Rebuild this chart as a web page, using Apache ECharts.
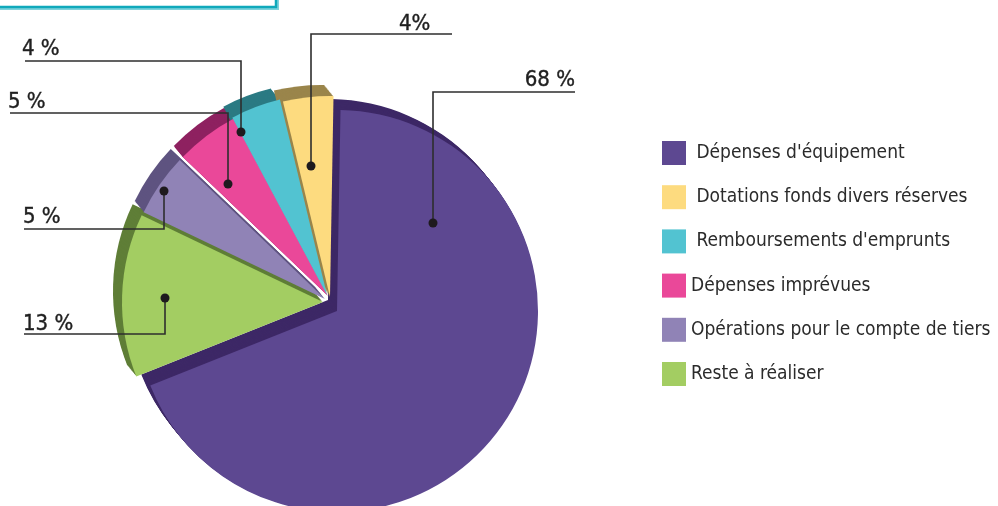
<!DOCTYPE html>
<html><head><meta charset="utf-8">
<script src="https://cdn.jsdelivr.net/npm/echarts@6/dist/echarts.min.js"></script>
<style>html,body{margin:0;padding:0;background:#fff}#c{width:998px;height:506px}</style>
</head><body><div id="c"></div>
<script>
// ---- data ----
const categories = ["Dépenses d'équipement", "Reste à réaliser", "Opérations pour le compte de tiers", "Dépenses imprévues", "Remboursements d'emprunts", "Dotations fonds divers réserves"];
const values = [68, 13, 5, 5, 4, 4];
const valueLabels = ["68 %", "13 %", "5 %", "5 %", "4 %", "4%"];
const legendOrder = ["Dépenses d'équipement", "Dotations fonds divers réserves", "Remboursements d'emprunts", "Dépenses imprévues", "Opérations pour le compte de tiers", "Reste à réaliser"];

// ---- styles / layout ----
const faceColors = ['#5d4891', '#a3cd62', '#9083b6', '#ea4899', '#52c3d1', '#fddb7f'];
const sideColors = ['#3d2866', '#5f7e37', '#5e5380', '#8e2160', '#2b7a83', '#9a854b'];
const faceCenters = [[337, 311], [323, 302], [325, 299], [328, 296], [327, 295], [330, 297]];
const RADIUS = 201;
const EXTRUDE = [-9, -11];
const STEPS = 10;
const FONT = '"DejaVu Sans Condensed", "Liberation Sans Narrow", "Liberation Sans", sans-serif';
// annotation layout per slice: dot, elbow line y, line end x, text anchor x/y, align
const annotLayout = [
  {dot: [433, 223], ly: 92, lx: 575, tx: 575, ty: 80, align: 'right'},
  {dot: [165, 298], ly: 334, lx: 24, tx: 23, ty: 324, align: 'left'},
  {dot: [164, 191], ly: 229, lx: 24, tx: 23, ty: 217, align: 'left'},
  {dot: [228, 184], ly: 113, lx: 10, tx: 8, ty: 102, align: 'left'},
  {dot: [241, 132], ly: 61, lx: 25, tx: 22, ty: 49, align: 'left'},
  {dot: [311, 166], ly: 34, lx: 452, tx: 399, ty: 24, align: 'left'}
];

function sliceSeries(i, cx, cy, color) {
  return {
    type: 'pie', center: [cx, cy], radius: [0, RADIUS], startAngle: 89, clockwise: true,
    silent: true, animation: false, legendHoverLink: false, avoidLabelOverlap: false,
    label: {show: false}, labelLine: {show: false}, emphasis: {disabled: true},
    itemStyle: {borderWidth: 0},
    data: categories.map((n, k) => ({
      name: n, value: values[k],
      itemStyle: {color: k === i ? color : 'rgba(0,0,0,0)', borderWidth: 0}
    }))
  };
}

const series = [];
categories.forEach((n, i) => {
  for (let s = STEPS; s >= 1; s--) {
    const t = s / STEPS;
    series.push(sliceSeries(i, faceCenters[i][0] + EXTRUDE[0] * t, faceCenters[i][1] + EXTRUDE[1] * t, sideColors[i]));
  }
});
categories.forEach((n, i) => {
  series.push(sliceSeries(i, faceCenters[i][0], faceCenters[i][1], faceColors[i]));
});

const graphics = [
  {type: 'rect', shape: {x: -10, y: -20, width: 287, height: 28}, style: {fill: 'none', stroke: '#7fd3dc', lineWidth: 4}, z: 99},
  {type: 'rect', shape: {x: -10, y: -20, width: 286, height: 27}, style: {fill: 'none', stroke: '#10a9bb', lineWidth: 2.5}, z: 100}
];
annotLayout.forEach((a, i) => {
  graphics.push({type: 'polyline', shape: {points: [a.dot, [a.dot[0], a.ly], [a.lx, a.ly]]}, style: {stroke: '#2e2e2e', lineWidth: 1.6, fill: 'none'}, z: 100});
  graphics.push({type: 'circle', shape: {cx: a.dot[0], cy: a.dot[1], r: 4.5}, style: {fill: '#1e1a1e'}, z: 101});
  graphics.push({type: 'text', x: a.tx, y: a.ty, style: {text: valueLabels[i], font: '22px ' + FONT, fill: '#1f1f1f', textAlign: a.align, textVerticalAlign: 'middle', stroke: '#1f1f1f', lineWidth: 0.4}, z: 101});
});

const chart = echarts.init(document.getElementById('c'), null, {renderer: 'canvas'});
chart.setOption({
  backgroundColor: '#ffffff',
  animation: false,
  legend: {
    orient: 'vertical', left: 662, top: 141, padding: 0, itemWidth: 24, itemHeight: 24, itemGap: 20.2,
    icon: 'rect', selectedMode: false,
    data: legendOrder.map(n => ({name: n, itemStyle: {color: faceColors[categories.indexOf(n)]}})),
    formatter: n => (legendOrder.indexOf(n) < 3 ? ' ' : '') + n,
    textStyle: {fontSize: 19, fontFamily: FONT, color: '#2b2b2b'}
  },
  series: series,
  graphic: graphics
});
</script>
</body></html>
